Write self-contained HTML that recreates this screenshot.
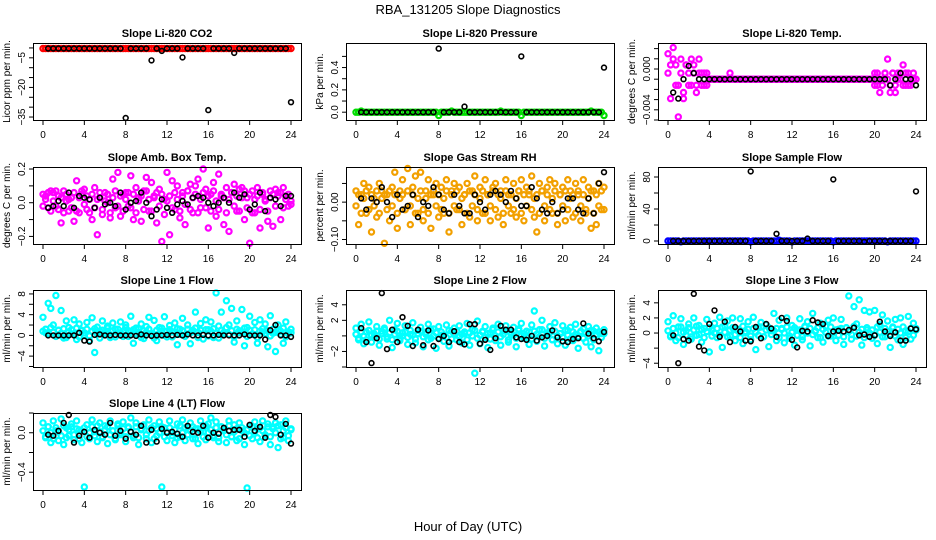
<!DOCTYPE html>
<html><head><meta charset="utf-8"><style>
html,body{margin:0;padding:0;background:#fff;}
svg{display:block;font-family:"Liberation Sans",sans-serif;}
</style></head><body>
<svg id="chart" width="936" height="540" viewBox="0 0 936 540" xmlns="http://www.w3.org/2000/svg">
<text x="468" y="14" font-size="13" text-anchor="middle">RBA_131205  Slope Diagnostics</text>
<text x="468" y="531" font-size="13" text-anchor="middle">Hour of Day (UTC)</text>
</svg>
<script>
const BH=[0.5,1,1.5,2,2.5,3,3.5,4,4.5,5,5.5,6,6.5,7,7.5,8,8.5,9,9.5,10,10.5,11,11.5,12,12.5,13,13.5,14,14.5,15,15.5,16,16.5,17,17.5,18,18.5,19,19.5,20,20.5,21,21.5,22,22.5,23,23.5,24];
const CH=[0,0.25,0.5,0.75,1,1.25,1.5,1.75,2,2.25,2.5,2.75,3,3.25,3.5,3.75,4,4.25,4.5,4.75,5,5.25,5.5,5.75,6,6.25,6.5,6.75,7,7.25,7.5,7.75,8,8.25,8.5,8.75,9,9.25,9.5,9.75,10,10.25,10.5,10.75,11,11.25,11.5,11.75,12,12.25,12.5,12.75,13,13.25,13.5,13.75,14,14.25,14.5,14.75,15,15.25,15.5,15.75,16,16.25,16.5,16.75,17,17.25,17.5,17.75,18,18.25,18.5,18.75,19,19.25,19.5,19.75,20,20.25,20.5,20.75,21,21.25,21.5,21.75,22,22.25,22.5,22.75,23,23.25,23.5,23.75,24];
const xTicks=[0,4,8,12,16,20,24];

// Panel 1 CO2
const p1Black=[-0.3,-0.3,-0.3,-0.3,-0.3,-0.3,-0.3,-0.3,-0.3,-0.3,-0.3,-0.3,-0.3,-0.3,-0.3,-35.5,-0.3,-0.3,-0.3,-0.3,-6.3,-0.3,-1.5,-0.3,-0.3,-0.3,-4.8,-0.3,-0.3,-0.3,-0.3,-31.5,-0.3,-0.3,-0.3,-0.3,-2.5,-0.3,-0.3,-0.3,-0.3,-0.3,-0.3,-0.3,-0.3,-0.3,-0.3,-27.5];
const p1Red=[-0.3,-0.3,-0.3,-0.3,-0.3,-0.3,-0.3,-0.3,-0.3,-0.3,-0.3,-0.3,-0.3,-0.3,-0.3,-0.3,-0.3,-0.3,-0.3,-0.3,-0.3,-0.3,-0.3,-0.3,-0.3,-0.3,-0.3,-0.3,-0.3,-0.3,-0.3,-0.3,-0.3,-0.3,-0.3,-0.3,-0.3,-0.3,-0.3,-0.3,-0.3,-0.3,-0.3,-0.3,-0.3,-0.3,-0.3,-0.3,-0.3,-0.3,-0.3,-0.3,-0.3,-0.3,-0.3,-0.3,-0.3,-0.3,-0.3,-0.3,-0.3,-0.3,-0.3,-0.3,-0.3,-0.3,-0.3,-0.3,-0.3,-0.3,-0.3,-0.3,-0.3,-0.3,-0.3,-0.3,-0.3,-0.3,-0.3,-0.3,-0.3,-0.3,-0.3,-0.3,-0.3,-0.3,-0.3,-0.3,-0.3,-0.3,-0.3,-0.3,-0.3,-0.3,-0.3,-0.3,-0.3];
const p1Ticks=[-35,-30,-25,-20,-15,-10,-5,0];
const p1Labels=["\u221235","","","\u221220","","","\u22125",""];

// Panel 2 Pressure
const p2Black=[0,0,0,0,0,0,0,0,0,0,0,0,0,0,0,0.57,0,0,0,0,0.05,0,0,0,0,0,0,0,0,0,0,0.50,0,0,0,0,0,0,0,0,0,0,0,0,0,0,0,0.40];
const p2Green=[0,0,0.01,0,0,0,0,0,0,0,0,0,0,0,0,0,0,0,0,0,0,0,0,0,0,0,0,0,0,0,0,0,-0.03,0,0,0,0,0.01,0,0,0,0,0,0,0,0,0,0,0,0,0,0,0,0,0,0,0.01,0,0,0,0,0,0,0,-0.03,0,0,0,0,0,0,0,0,0,0,0,0,0,0,0,0,0,0,0,0,0,0,0,0,0,0,0.01,0,0,0,0,-0.03];
const p2Ticks=[0,0.1,0.2,0.3,0.4,0.5];
const p2Labels=["0.0","","0.2","","0.4",""];

// Panel 3 Li-820 Temp (units of 0.001)
const p3Black=[-2.3,-2.9,-1,0.3,-0.4,-1,-1,-1,-1,-1,-1,-1,-1,-1,-1,-1,-1,-1,-1,-1,-1,-1,-1,-1,-1,-1,-1,-1,-1,-1,-1,-1,-1,-1,-1,-1,-1,-1,-1,-1,-1,-1,-1.6,-1,-0.4,-1,-1,-1.6];
const p3MagA=[1.5,0.4,2.1,-1.6,-4.7,0.97,-2.3,0.4,-1.6,0.97,-0.4,-1.6,0.97,-0.4,-1.6,-0.4,-1,-1,-1,-1,-1,-1,-1,-1,-0.4,-1,-1,-1,-1,-1,-1,-1,-1,-1,-1,-1,-1,-1,-1,-1,-1,-1,-1,-1,-1,-1,-1,-1,-1,-1,-1,-1,-1,-1,-1,-1,-1,-1,-1,-1,-1,-1,-1,-1,-1,-1,-1,-1,-1,-1,-1,-1,-1,-1,-1,-1,-1,-1,-1,-1,-0.4,-1.6,-2.3,-1,-0.4,0.97,-1.6,-0.4,-2.3,-1,-0.4,0.4,-1.6,-0.4,-1.6,-1,-1];
const p3MagB=[-0.4,-2.9,0.97,0.4,-1.6,-0.4,-2.9,0.4,-0.4,-1.6,0.4,-2.3,-0.4,-1.6,-0.4,-1.6,-1,-1,-1,-1,-1,-1,-1,-1,-1,-1,-1,-1,-1,-1,-1,-1,-1,-1,-1,-1,-1,-1,-1,-1,-1,-1,-1,-1,-1,-1,-1,-1,-1,-1,-1,-1,-1,-1,-1,-1,-1,-1,-1,-1,-1,-1,-1,-1,-1,-1,-1,-1,-1,-1,-1,-1,-1,-1,-1,-1,-1,-1,-1,-1,-1.6,-0.4,-1,-1.6,-0.4,-1,-2.3,-0.4,-1.6,-0.4,-1,-1.6,-0.4,-1.6,-1,-0.4,-1];
const p3Ticks=[-5,-4,-3,-2,-1,0,1,2];
const p3Labels=["","\u22120.004","","","","0.000","",""];

// Panel 4 Amb Box Temp
const p4Black=[-0.03,-0.02,0.01,-0.02,0.06,-0.03,0.04,0.03,0.02,-0.03,0.03,-0.01,0.00,-0.02,0.06,-0.04,0.00,0.01,0.06,0.00,-0.08,-0.04,0.02,-0.03,-0.06,-0.01,0.01,-0.01,0.03,0.04,0.03,0.00,-0.02,0.00,0.03,0.00,0.06,0.03,0.05,-0.04,-0.01,0.06,-0.05,0.03,0.02,-0.02,0.04,0.04];
const p4MagA=[0.05,0.02,-0.03,0.07,0.06,-0.02,0.04,-0.12,0.07,0.01,-0.05,0.03,-0.11,0.13,-0.06,0.05,0.08,-0.04,0.02,-0.10,0.09,-0.19,0.03,-0.07,0.06,0.00,-0.09,0.14,-0.03,0.18,-0.08,0.05,0.06,-0.02,0.16,-0.10,0.09,0.03,-0.11,0.07,0.15,-0.05,0.12,0.04,-0.12,0.08,-0.23,0.02,0.18,-0.19,0.13,-0.04,0.10,-0.09,0.06,-0.13,0.07,0.11,-0.06,0.10,0.14,-0.03,0.20,0.08,-0.15,0.05,0.12,-0.08,0.17,0.04,-0.13,0.09,-0.17,0.06,0.11,-0.05,0.08,0.09,-0.10,0.03,-0.24,0.07,-0.06,0.09,-0.15,0.05,0.02,-0.11,0.07,-0.14,0.08,0.06,-0.10,0.09,0.04,-0.02,0.01];
const p4MagB=[-0.02,0.04,0.06,-0.05,0.01,0.07,-0.04,0.03,-0.06,0.05,0.02,-0.03,0.06,-0.05,0.03,0.07,-0.01,0.04,-0.06,0.05,-0.03,0.02,0.06,-0.04,0.01,0.05,-0.06,0.03,0.07,-0.02,0.04,-0.05,0.02,0.06,-0.03,0.05,-0.06,0.01,0.04,-0.04,0.07,0.02,-0.05,0.03,0.06,-0.02,0.05,-0.07,0.01,0.04,-0.03,0.06,0.02,-0.05,0.04,-0.01,0.07,-0.04,0.03,0.05,-0.06,0.02,0.06,-0.03,0.04,-0.05,0.07,0.01,-0.04,0.05,0.03,-0.06,0.02,0.06,-0.02,0.04,-0.05,0.03,0.07,-0.03,0.05,-0.06,0.02,0.04,-0.04,0.06,0.01,-0.05,0.03,0.05,-0.02,0.04,0.06,-0.03,0.02,0.05,-0.01];
const p4Ticks=[-0.2,-0.1,0,0.1,0.2];
const p4Labels=["\u22120.2","","0.0","","0.2"];

// Panel 5 Gas Stream RH
const p5Black=[0.01,-0.02,0.01,0.00,0.04,0.00,-0.04,0.02,-0.02,-0.01,0.02,-0.04,0.00,-0.01,0.04,0.02,-0.02,-0.03,0.02,-0.01,-0.03,-0.03,0.02,0.00,-0.02,0.02,0.03,0.02,0.00,0.03,0.01,-0.01,-0.01,0.04,0.01,-0.02,-0.03,0.00,-0.03,-0.02,0.01,0.01,-0.02,-0.03,0.01,-0.03,0.05,0.08];
const p5OrgA=[0.03,-0.06,0.02,0.05,-0.03,0.04,-0.08,0.01,-0.04,0.05,0.03,-0.11,0.02,-0.05,0.04,0.08,-0.07,0.03,0.06,-0.02,0.09,-0.06,0.04,0.07,-0.03,0.08,-0.05,0.03,0.06,-0.07,0.02,0.05,-0.04,0.04,-0.03,0.06,-0.08,0.03,0.05,-0.02,0.04,-0.06,0.02,0.05,-0.04,0.03,0.07,-0.05,0.04,-0.03,0.06,0.02,-0.05,0.04,0.05,-0.04,0.03,-0.06,0.06,0.02,-0.03,0.05,-0.04,0.03,0.06,-0.05,0.04,0.02,0.07,-0.04,-0.08,0.05,0.03,-0.05,0.04,0.06,-0.03,0.05,-0.06,0.02,0.04,-0.05,0.06,0.03,-0.04,0.05,0.02,-0.05,0.06,-0.03,0.04,-0.07,0.03,-0.06,0.05,-0.02,0.04];
const p5OrgB=[-0.01,0.02,-0.03,0.01,0.03,-0.02,0.02,-0.01,0.03,-0.03,0.01,0.02,-0.02,0.03,-0.01,0.02,-0.03,0.01,0.02,-0.02,0.03,-0.01,0.02,-0.03,0.01,0.03,-0.02,0.01,-0.03,0.02,0.03,-0.01,0.02,-0.02,0.01,0.03,-0.03,0.02,-0.01,0.03,-0.02,0.01,0.02,-0.03,0.03,-0.01,0.02,-0.02,0.01,0.03,-0.03,0.02,-0.01,0.03,-0.02,0.02,0.01,-0.03,0.03,-0.01,0.02,-0.02,0.01,0.03,-0.03,0.02,-0.01,0.03,-0.02,0.01,0.02,-0.03,0.03,-0.01,0.02,-0.02,0.01,0.03,-0.03,0.02,-0.01,0.03,-0.02,0.01,0.02,-0.03,0.03,-0.01,0.02,-0.02,0.01,0.03,-0.03,0.02,-0.01,0.03,-0.02];
const p5Ticks=[-0.1,-0.05,0,0.05];
const p5Labels=["\u22120.10","","0.00",""];

// Panel 6 Sample Flow
const p6Black=[0,0,0,0,0,0,0,0,0,0,0,0,0,0,0,87,0,0,0,0,9,0,0,0,0,0,3,0,0,0,0,77,0,0,0,0,0,-1,0,0,0,0,0,0,0,0,0,62];
const p6Blue=[0,0,0,0,0,-1,0,0,0,0,0,0,0,0,0,0,0,0,0,0,0,0,0,0,0,0,0,0,0,0,0,0,-1,0,0,0,0,0,0,0,0,0,0,1,0,0,0,0,-1,0,0,0,0,0,0,0,0,0,0,0,0,0,0,0,-1,0,0,0,0,0,0,0,0,0,0,0,0,0,0,0,0,0,0,0,0,-1,0,0,0,0,0,0,0,0,0,0,0];
const p6Ticks=[0,20,40,60,80];
const p6Labels=["0","","40","","80"];

// Panel 7 Line 1 Flow
const p7Black=[0,0,0,0,0,0,0.5,-1.0,-1.2,0.1,0.2,0,0,0.1,0,0,0,-0.1,0.2,0,-0.1,0,0,0.1,0,0.1,0,0.2,0,0,0.1,0,0,0.1,0,0,0,0,0.2,0,0,0,-0.8,1.0,2.0,0,0,-0.3];
const p7CyanA=[3.5,0.5,6.2,5.2,2.0,7.7,1.0,4.8,-0.5,2.8,1.5,0.3,3.0,-0.8,2.2,1.0,0.0,2.5,-1.0,3.4,-3.3,1.6,0.8,2.8,0.2,1.8,-0.4,2.4,1.2,0.5,2.6,-0.2,2.0,0.9,3.7,-1.5,1.4,0.6,2.2,-0.6,1.7,3.5,0.4,2.9,-1.0,1.5,0.8,3.6,-0.3,1.9,0.7,2.4,-1.8,1.2,3.3,0.1,2.0,-1.6,1.0,4.5,0.6,2.3,-0.7,3.0,1.1,2.6,-0.4,8.2,1.8,4.5,0.3,6.7,2.0,5.2,-1.3,2.8,0.9,5.0,-2.0,1.5,3.7,0.2,2.5,-1.5,3.0,0.7,2.2,-2.2,3.8,0.4,-3.1,2.0,0.8,-1.5,2.6,0.3,1.2];
const p7CyanB=[0.8,1.2,0.3,1.5,0.6,-0.2,1.0,0.4,1.3,-0.4,0.7,1.1,0.2,1.4,-0.3,0.9,0.5,1.2,-0.1,0.8,1.3,0.3,-0.5,1.0,0.6,1.4,0.1,0.9,-0.3,1.2,0.5,0.8,1.5,-0.2,0.7,1.1,0.3,1.3,-0.4,0.9,0.6,1.2,0.2,-0.5,1.0,0.4,1.4,0.0,0.8,1.1,-0.3,0.6,1.3,0.2,0.9,-0.2,1.2,0.5,0.7,1.4,-0.4,1.0,0.3,1.1,-0.1,0.8,1.3,0.4,-0.5,1.0,0.6,1.5,0.2,0.9,-0.3,1.2,0.5,0.7,1.4,-0.2,1.0,0.3,1.1,-0.4,0.8,1.3,0.4,0.9,-0.1,1.2,0.6,1.0,0.2,1.4,-0.3,0.7,0.5];
const p7Ticks=[-6,-4,-2,0,2,4,6,8];
const p7Labels=["","\u22124","","0","","4","","8"];

// Panel 8 Line 2 Flow
const p8Black=[1.0,-0.8,-3.5,-0.3,5.5,-1.7,0.8,-0.8,2.4,1.3,-1.3,0.8,-1.2,0.7,-1.3,-0.4,0.0,-0.8,0.6,-0.8,-1.1,1.5,1.5,-1.0,-0.5,-1.8,-0.3,1.3,0.8,0.8,-0.2,-0.4,-0.5,0.0,-0.6,-0.2,0.0,0.7,-0.2,-0.7,-0.8,-0.4,-0.3,1.6,0.3,-0.3,-0.7,0.5];
const p8CyanA=[1.0,-0.5,1.5,-1.0,0.5,1.8,-0.8,0.3,1.2,-1.2,0.6,1.0,-0.4,2.0,-1.5,0.8,1.6,-0.6,0.4,1.3,-1.1,0.2,1.7,-0.9,0.7,1.1,-1.4,0.5,1.5,-0.3,0.9,-1.6,1.2,0.1,-0.7,1.4,-1.3,0.6,1.0,-0.5,1.3,-0.9,0.3,1.6,-1.2,0.8,-4.8,1.9,-1.0,0.5,1.2,-1.5,0.4,1.0,-0.6,1.5,-1.2,0.7,1.3,-0.8,0.2,1.1,-1.4,0.9,1.6,-0.3,0.6,-1.1,1.4,3.2,-0.7,0.8,2.0,-1.3,0.4,1.2,-0.5,1.7,-1.0,0.3,1.3,-1.2,0.7,1.1,-0.6,1.5,-1.6,0.5,0.9,-0.8,1.2,-1.4,0.6,1.0,-1.9,0.3,0.8];
const p8CyanB=[0.2,-0.3,0.5,0.0,-0.5,0.7,0.1,-0.2,0.6,-0.4,0.3,0.8,-0.1,0.4,-0.5,0.2,0.6,-0.3,0.0,0.5,-0.2,0.7,0.1,-0.4,0.3,0.6,-0.1,0.2,-0.5,0.8,0.0,0.4,-0.3,0.5,0.1,-0.2,0.7,-0.4,0.3,0.6,-0.1,0.2,0.5,-0.5,0.4,0.0,0.7,-0.3,0.1,0.6,-0.2,0.3,-0.4,0.8,0.0,0.5,-0.1,0.2,0.6,-0.5,0.4,0.1,-0.3,0.7,0.0,0.3,-0.2,0.5,-0.4,0.6,0.2,-0.1,0.8,-0.3,0.1,0.4,-0.5,0.6,0.0,0.3,-0.2,0.7,0.1,-0.4,0.5,0.2,-0.1,0.6,-0.3,0.4,0.0,0.7,-0.5,0.2,0.5,-0.2,0.3];
const p8Ticks=[-4,-2,0,2,4];
const p8Labels=["","\u22122","","2","4"];

// Panel 9 Line 3 Flow
const p9Black=[-0.3,-4.0,-0.8,-1.0,5.2,-1.8,-2.3,1.2,3.0,-0.5,1.5,-1.2,0.8,0.2,-1.0,-1.1,0.8,-0.7,1.2,0.6,-0.5,2.0,1.6,-0.9,-1.9,0.3,0.2,1.7,1.4,1.2,-0.4,0.2,0.3,0.2,0.4,0.7,-0.3,-0.2,-0.5,-0.3,1.5,0.2,-0.4,0.1,-1.0,-1.0,0.6,0.5];
const p9CyanA=[1.5,-0.5,2.3,-1.0,0.8,1.9,-1.5,0.3,1.2,-0.8,2.0,-0.3,1.0,-1.2,0.6,1.8,-2.5,0.4,1.3,-0.6,2.1,-1.9,0.9,1.6,-0.4,2.0,-1.0,0.5,1.9,-1.4,0.2,1.5,-0.9,2.1,-2.2,0.7,1.4,-0.5,1.1,-1.8,0.3,2.6,-1.0,1.7,0.6,-1.3,2.0,-0.7,1.0,-1.6,0.4,1.9,-0.9,0.8,1.5,-1.7,2.6,0.2,-0.6,1.3,-1.2,0.9,1.7,-0.4,2.0,-1.0,0.5,1.8,-1.5,0.7,4.9,-0.8,3.5,1.2,4.4,-1.6,3.0,0.4,2.8,-0.7,3.0,-1.4,1.1,2.4,-0.5,1.6,-1.9,0.8,1.8,-0.9,2.0,-1.5,0.3,2.2,-0.8,1.3,0.6];
const p9CyanB=[0.3,-0.4,0.6,0.0,-0.6,0.8,0.1,-0.3,0.7,-0.5,0.4,0.9,-0.2,0.5,-0.6,0.2,0.7,-0.4,0.0,0.6,-0.3,0.8,0.1,-0.5,0.4,0.7,-0.2,0.3,-0.6,0.9,0.0,0.5,-0.4,0.6,0.1,-0.3,0.8,-0.5,0.4,0.7,-0.2,0.3,0.6,-0.6,0.5,0.0,0.8,-0.4,0.1,0.7,-0.3,0.4,-0.5,0.9,0.0,0.6,-0.2,0.3,0.7,-0.6,0.5,0.1,-0.4,0.8,0.0,0.4,-0.3,0.6,-0.5,0.7,0.2,-0.2,0.9,-0.4,0.1,0.5,-0.6,0.7,0.0,0.4,-0.3,0.8,0.1,-0.5,0.6,0.2,-0.2,0.7,-0.4,0.5,0.0,0.8,-0.6,0.2,0.6,-0.3,0.4];
const p9Ticks=[-4,-2,0,2,4];
const p9Labels=["\u22124","","0","2","4"];

// Panel 10 Line 4 (LT) Flow
const p10Black=[-0.02,-0.03,0.02,0.10,0.18,-0.10,-0.03,0.01,-0.05,0.03,0.00,-0.02,0.10,-0.03,0.02,-0.06,0.01,-0.02,0.07,-0.10,0.03,-0.09,0.04,0.00,0.01,-0.01,-0.04,0.07,0.01,0.00,0.07,-0.05,0.00,-0.01,0.05,0.02,0.03,0.03,-0.04,0.08,0.02,0.06,-0.05,0.18,0.16,-0.02,0.09,-0.11];
const p10CyanA=[0.10,-0.05,0.06,-0.10,0.12,0.02,-0.08,0.14,-0.12,0.05,-0.03,0.09,-0.07,0.12,0.03,-0.10,-0.55,0.08,-0.06,0.13,0.01,-0.09,0.10,-0.04,0.07,-0.11,0.12,0.02,-0.07,0.09,-0.02,0.11,-0.09,0.06,0.15,-0.05,0.10,-0.12,0.04,0.08,-0.06,0.13,-0.10,0.07,-0.03,0.11,-0.55,0.05,-0.08,0.12,0.00,-0.10,0.09,-0.04,0.13,-0.08,0.06,0.10,-0.06,0.04,-0.11,0.12,0.01,-0.07,0.09,0.15,-0.05,0.11,-0.09,0.06,0.03,-0.10,0.12,-0.04,0.08,-0.08,0.10,0.02,-0.12,-0.56,0.07,-0.06,0.11,0.04,-0.09,0.12,-0.03,0.09,-0.12,0.06,0.10,-0.15,0.08,-0.05,0.12,-0.08,0.04];
const p10CyanB=[0.02,-0.04,0.06,0.00,-0.06,0.05,0.01,-0.03,0.07,-0.05,0.03,0.06,-0.02,0.04,-0.06,0.02,0.05,-0.04,0.00,0.06,-0.03,0.07,0.01,-0.05,0.03,0.06,-0.02,0.02,-0.06,0.07,0.00,0.04,-0.04,0.05,0.01,-0.03,0.06,-0.05,0.03,0.07,-0.02,0.02,0.05,-0.06,0.04,0.00,0.06,-0.04,0.01,0.05,-0.03,0.03,-0.05,0.07,0.00,0.05,-0.02,0.02,0.06,-0.06,0.04,0.01,-0.04,0.07,0.00,0.03,-0.03,0.05,-0.05,0.06,0.02,-0.02,0.07,-0.04,0.01,0.04,-0.06,0.05,0.00,0.03,-0.03,0.06,0.01,-0.05,0.05,0.02,-0.02,0.06,-0.04,0.04,0.00,0.07,-0.06,0.02,0.05,-0.03,0.03];
const p10Ticks=[-0.6,-0.4,-0.2,0,0.2];
const p10Labels=["","\u22120.4","","0.0",""];

const NS="http://www.w3.org/2000/svg";
const svg=document.getElementById('chart');
function mk(tag,attrs,parent){const e=document.createElementNS(NS,tag);for(const k in attrs)e.setAttribute(k,attrs[k]);(parent||svg).appendChild(e);return e;}

const COLS=[33,346,658], ROWS=[43,167,290,413], W=268, H=77;
const panels=[
 {name:'co2',title:'Slope Li-820 CO2',ylab:'Licor ppm per min.',c:0,r:0,ymin:-36.5,ymax:2.5,ticks:p1Ticks,labels:p1Labels,black:p1Black,col:[p1Red],color:'#ff0000'},
 {name:'pressure',title:'Slope Li-820 Pressure',ylab:'kPa per min.',c:1,r:0,ymin:-0.07,ymax:0.62,ticks:p2Ticks,labels:p2Labels,black:p2Black,col:[p2Green],color:'#00dd00'},
 {name:'li820-temp',title:'Slope Li-820 Temp.',ylab:'degrees C per min.',c:2,r:0,ymin:-5.0,ymax:2.55,ticks:p3Ticks,labels:p3Labels,black:p3Black,col:[p3MagA,p3MagB],color:'#ff00ff'},
 {name:'amb-box-temp',title:'Slope Amb. Box Temp.',ylab:'degrees C per min.',c:0,r:1,ymin:-0.245,ymax:0.212,ticks:p4Ticks,labels:p4Labels,black:p4Black,col:[p4MagA,p4MagB],color:'#ff00ff'},
 {name:'gas-stream-rh',title:'Slope Gas Stream RH',ylab:'percent per min.',c:1,r:1,ymin:-0.112,ymax:0.094,ticks:p5Ticks,labels:p5Labels,black:p5Black,col:[p5OrgA,p5OrgB],color:'#f2a000'},
 {name:'sample-flow',title:'Slope Sample Flow',ylab:'ml/min per min.',c:2,r:1,ymin:-3.75,ymax:92.5,ticks:p6Ticks,labels:p6Labels,black:p6Black,col:[p6Blue],color:'#0000ff'},
 {name:'line1-flow',title:'Slope Line 1 Flow',ylab:'ml/min per min.',c:0,r:2,ymin:-6.1,ymax:8.76,ticks:p7Ticks,labels:p7Labels,black:p7Black,col:[p7CyanA,p7CyanB],color:'#00ffff'},
 {name:'line2-flow',title:'Slope Line 2 Flow',ylab:'ml/min per min.',c:1,r:2,ymin:-4.0,ymax:5.9,ticks:p8Ticks,labels:p8Labels,black:p8Black,col:[p8CyanA,p8CyanB],color:'#00ffff'},
 {name:'line3-flow',title:'Slope Line 3 Flow',ylab:'ml/min per min.',c:2,r:2,ymin:-4.5,ymax:5.7,ticks:p9Ticks,labels:p9Labels,black:p9Black,col:[p9CyanA,p9CyanB],color:'#00ffff'},
 {name:'line4-flow',title:'Slope Line 4 (LT) Flow',ylab:'ml/min per min.',c:0,r:3,ymin:-0.58,ymax:0.2,ticks:p10Ticks,labels:p10Labels,black:p10Black,col:[p10CyanA,p10CyanB],color:'#00ffff'}
];

panels.forEach(p=>{
  const L=COLS[p.c], T=ROWS[p.r], B=T+H;
  const xs=h=>L+10+h*(W-20)/24;
  const ys=v=>B-(v-p.ymin)/(p.ymax-p.ymin)*H;
  const g=mk('g',{});
  
  
  const t=mk('text',{x:L+W/2,y:T-6,'font-size':11,'font-weight':'bold','text-anchor':'middle'},g);
  
  
  t.textContent=p.title;
  const yl=mk('text',{x:L-23,y:T+H/2,'font-size':10,'text-anchor':'middle',transform:`rotate(-90 ${L-23} ${T+H/2})`},g);
  
  
  yl.textContent=p.ylab;
  const cg=mk('g',{fill:'none',stroke:p.color,'stroke-width':2.2},g);
  
  
  p.col.forEach(arr=>{
    const n=Math.min(arr.length,CH.length);
    for(let i=0;i<n;i++){
      const c=mk('circle',{cx:xs(CH[i]).toFixed(1),cy:ys(arr[i]).toFixed(1),r:2.6},cg);
      
      
    }
  });
  const bg=mk('g',{fill:'none',stroke:'#000','stroke-width':1.6},g);
  
  
  const nb=Math.min(p.black.length,BH.length);
  for(let i=0;i<nb;i++){
    const c=mk('circle',{cx:xs(BH[i]).toFixed(1),cy:ys(p.black[i]).toFixed(1),r:2.4},bg);
    
    
  }
  const bx=mk('rect',{x:L+0.5,y:T+0.5,width:W,height:H,fill:'none',stroke:'#000','stroke-width':1},g);
  
  
  xTicks.forEach(h=>{
    const x=xs(h);
    mk('line',{x1:x,x2:x,y1:B+0.5,y2:B+5,stroke:'#000'},g);
    const tl=mk('text',{x:x,y:B+18,'font-size':10,'text-anchor':'middle'},g);
    
    
    tl.textContent=String(h);
  });
  p.ticks.forEach((v,i)=>{
    const y=ys(v);
    if(y<T-1||y>B+1) return;
    mk('line',{x1:L-4,x2:L+0.5,y1:y,y2:y,stroke:'#000'},g);
    if(p.labels[i]){
      const tl=mk('text',{x:L-8,y:y,'font-size':10,'text-anchor':'middle',transform:`rotate(-90 ${L-8} ${y})`},g);
      
      
      tl.textContent=p.labels[i];
    }
  });
});
</script>
</body></html>
